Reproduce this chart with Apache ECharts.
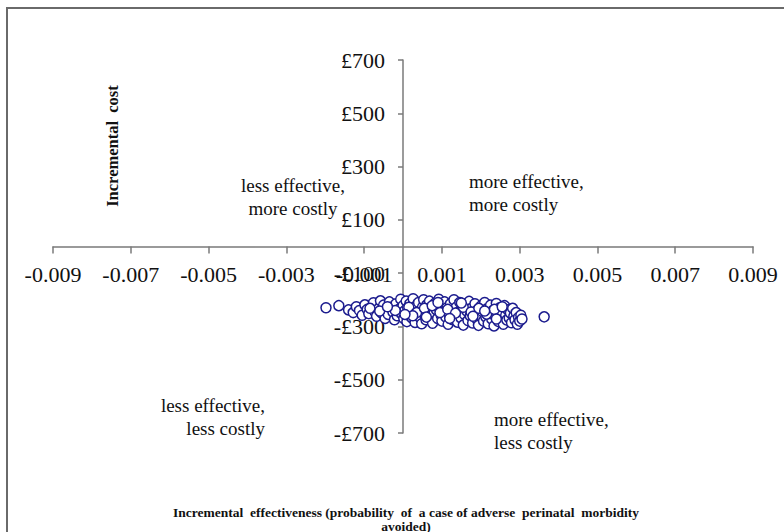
<!DOCTYPE html>
<html><head><meta charset="utf-8">
<script src="https://cdn.jsdelivr.net/npm/echarts@6/dist/echarts.min.js"></script>
<style>html,body{margin:0;padding:0;background:#fff}#c{width:784px;height:532px}</style>
</head><body><div id="c"></div>
<script>
// Axis ranges / ticks
const xMin = -0.009, xMax = 0.009, xStep = 0.002;
const yMin = -700, yMax = 700, yStep = 200;
// Quadrant labels
const quadrantLabels = ["less effective,\nmore costly", "more effective,\nmore costly", "less effective,\nless costly", "more effective,\nless costly"];
const xTitle = "Incremental  effectiveness (probability  of  a case of adverse  perinatal  morbidity\navoided)";
const yTitle = "Incremental  cost";
// Bootstrap replicates: [incremental effectiveness, incremental cost (£)]
const replicates = [
[-0.00198,-230],[-0.00165,-222],[-0.00140,-238],[-0.00128,-248],[-0.00120,-226],[-0.00112,-240],[-0.00105,-258],[-0.00098,-219],[-0.00092,-236],[-0.00088,-252],[-0.00080,-228],[-0.00076,-211],[-0.00072,-245],[-0.00068,-262],[-0.00062,-232],[-0.00058,-204],[-0.00055,-250],[-0.00050,-220],[-0.00046,-270],[-0.00042,-238],[-0.00038,-255],[-0.00035,-208],[-0.00030,-228],[-0.00026,-246],[-0.00022,-275],[-0.00018,-215],[-0.00015,-260],[-0.00010,-235],[-0.00006,-198],[-0.00004,-252],[0.00000,-222],[0.00002,-270],[0.00005,-240],[0.00008,-205],[0.00010,-282],[0.00012,-230],[0.00015,-258],[0.00018,-214],[0.00020,-245],[0.00023,-268],[0.00026,-196],[0.00028,-236],[0.00031,-285],[0.00034,-222],[0.00036,-252],[0.00040,-210],[0.00042,-265],[0.00045,-240],[0.00048,-290],[0.00050,-228],[0.00053,-200],[0.00056,-256],[0.00059,-275],[0.00062,-218],[0.00065,-243],[0.00068,-205],[0.00070,-262],[0.00073,-232],[0.00076,-288],[0.00080,-250],[0.00083,-212],[0.00086,-238],[0.00089,-270],[0.00092,-198],[0.00095,-225],[0.00098,-258],[0.00100,-280],[0.00104,-242],[0.00107,-208],[0.00110,-265],[0.00113,-230],[0.00116,-292],[0.00119,-252],[0.00122,-215],[0.00125,-240],[0.00128,-275],[0.00131,-200],[0.00134,-262],[0.00137,-228],[0.00140,-284],[0.00143,-246],[0.00146,-210],[0.00149,-268],[0.00152,-235],[0.00155,-295],[0.00158,-255],[0.00161,-220],[0.00164,-242],[0.00167,-278],[0.00170,-206],[0.00173,-260],[0.00176,-232],[0.00179,-287],[0.00182,-248],[0.00185,-215],[0.00188,-270],[0.00191,-238],[0.00194,-296],[0.00197,-258],[0.00200,-224],[0.00204,-244],[0.00207,-280],[0.00210,-210],[0.00213,-265],[0.00216,-234],[0.00219,-290],[0.00222,-252],[0.00225,-220],[0.00228,-272],[0.00231,-240],[0.00234,-298],[0.00237,-260],[0.00240,-214],[0.00243,-248],[0.00246,-282],[0.00249,-230],[0.00252,-266],[0.00255,-245],[0.00258,-292],[0.00261,-222],[0.00264,-258],[0.00267,-276],[0.00270,-238],[0.00273,-268],[0.00276,-250],[0.00279,-286],[0.00282,-232],[0.00285,-262],[0.00288,-275],[0.00291,-248],[0.00294,-292],[0.00297,-266],[0.00300,-280],[0.00303,-258],[0.00306,-272],[0.00363,-264],
[-0.00020,-240],[0.00015,-228],[0.00035,-248],[0.00055,-232],[0.00075,-222],[0.00095,-248],[0.00115,-236],[0.00135,-250],[0.00155,-228],[0.00175,-246],[0.00195,-232],[0.00215,-254],[0.00235,-236],[0.00255,-226],[0.00025,-260],[0.00060,-265],[0.00090,-210],[0.00120,-270],[0.00150,-212],[0.00180,-262],[0.00210,-242],[0.00240,-272],[-0.00060,-242],[-0.00085,-232],[-0.00040,-226],[0.00005,-255]
];

const W = 784, H = 532;
const gridL = 53, gridR = 31, gridT = 60, gridB = 99;
const chart = echarts.init(document.getElementById('c'), null, {renderer: 'svg'});
const serif = '"Liberation Serif", "Times New Roman", serif';
const axisCol = '#7a7a7a';
const annStyle = {font: '19px ' + serif, fill: '#111', lineHeight: 23};
chart.setOption({
  backgroundColor: '#fff',
  animation: false,
  grid: {left: gridL, right: gridR, top: gridT, bottom: gridB, containLabel: false, outerBoundsMode: 'none'},
  xAxis: {
    type: 'value', min: xMin, max: xMax, interval: xStep, position: 'bottom',
    axisLine: {onZero: false, lineStyle: {color: axisCol, width: 1.5}},
    axisTick: {show: true, inside: false, length: 7, lineStyle: {color: axisCol, width: 1.5}},
    axisLabel: {margin: 17, fontFamily: serif, fontSize: 22, color: '#111',
      formatter: v => v.toFixed(3)},
    splitLine: {show: false}
  },
  yAxis: {
    type: 'value', min: yMin, max: yMax, interval: yStep, position: 'left',
    axisLine: {onZero: false, lineStyle: {color: axisCol, width: 1.5}},
    axisTick: {show: true, inside: false, length: 5, lineStyle: {color: axisCol, width: 1.5}},
    axisLabel: {margin: 18, fontFamily: serif, fontSize: 22, color: '#111',
      formatter: v => (Math.round(v) < 0 ? '-£' : '£') + Math.abs(Math.round(v))},
    splitLine: {show: false}
  },
  series: [{
    type: 'scatter',
    data: replicates,
    symbol: 'circle', symbolSize: 10,
    itemStyle: {color: '#ffffff', borderColor: '#1c1c8e', borderWidth: 1.5, opacity: 1},
    z: 5
  }],
  graphic: [
    {type: 'rect', shape: {x: 7, y: 8, width: 800, height: 600}, style: {fill: 'none', stroke: '#6a6a6a', lineWidth: 2}, silent: true, z: -1},
    {type: 'text', x: 293, y: 197, style: Object.assign({text: quadrantLabels[0], align: 'center', verticalAlign: 'middle'}, annStyle)},
    {type: 'text', x: 469, y: 193, style: Object.assign({text: quadrantLabels[1], align: 'left', verticalAlign: 'middle'}, annStyle)},
    {type: 'text', x: 265, y: 417, style: Object.assign({text: quadrantLabels[2], align: 'right', verticalAlign: 'middle'}, annStyle)},
    {type: 'text', x: 494, y: 431, style: Object.assign({text: quadrantLabels[3], align: 'left', verticalAlign: 'middle'}, annStyle)},
    {type: 'text', x: 112, y: 146, rotation: Math.PI / 2,
      style: {text: yTitle, font: 'bold 16.5px ' + serif, fill: '#111', align: 'center', verticalAlign: 'middle'}},
    {type: 'text', x: 406, y: 519,
      style: {text: xTitle, font: 'bold 13.5px ' + serif, fill: '#111', align: 'center', verticalAlign: 'middle', lineHeight: 14}}
  ]
});
// Cross the axes at the origin, located through the library's own scales
const origin = chart.convertToPixel({gridIndex: 0}, [0, 0]);
chart.setOption({
  xAxis: {offset: -((H - gridB) - origin[1])},
  yAxis: {offset: -(origin[0] - gridL)}
});
</script></body></html>
